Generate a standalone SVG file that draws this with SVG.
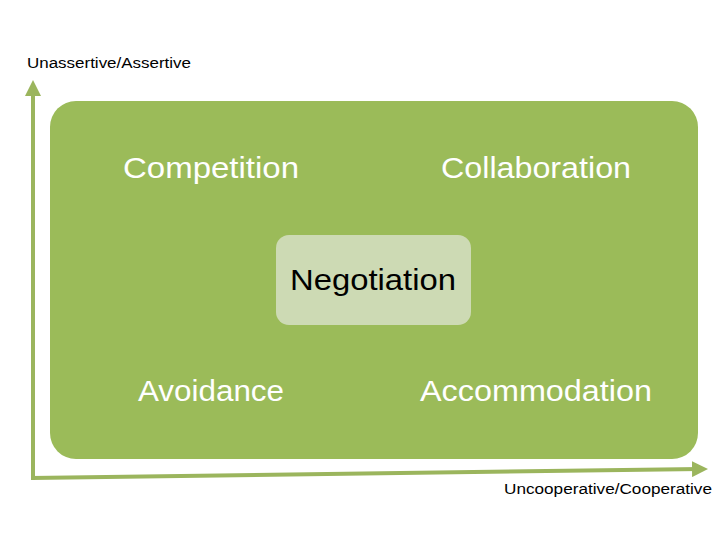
<svg xmlns="http://www.w3.org/2000/svg" width="720" height="540" viewBox="0 0 720 540">
<style>
.q{font-family:"Liberation Sans",Arial,sans-serif;font-size:30px;fill:#ffffff;text-anchor:middle}
.n{font-family:"Liberation Sans",Arial,sans-serif;font-size:30px;fill:#000000;text-anchor:middle}
.ax{font-family:"Liberation Sans",Arial,sans-serif;font-size:14px;fill:#000000}
.axis{stroke:#9BB55D;stroke-width:4;fill:none}
</style>
<defs>
<marker id="ah" viewBox="0 0 10 10" refX="5" refY="5" markerWidth="4" markerHeight="4" orient="auto" markerUnits="strokeWidth">
<path d="M0,0 L10,5 L0,10 z" fill="#9BB55D"/>
</marker>
</defs>
<rect width="720" height="540" fill="#ffffff"/>
<g id="background">
<rect x="50" y="101" width="648" height="358" rx="26" ry="26" fill="#9BBB59"/>
</g>
<g id="connectors">
<line class="axis" x1="33" y1="480" x2="33" y2="88" marker-end="url(#ah)"/>
<line class="axis" x1="31" y1="478" x2="700" y2="469" marker-end="url(#ah)"/>
</g>
<g id="competition"><text class="q" x="211" y="178" textLength="176" lengthAdjust="spacingAndGlyphs">Competition</text></g>
<g id="collaboration"><text class="q" x="536" y="178" textLength="190" lengthAdjust="spacingAndGlyphs">Collaboration</text></g>
<g id="negotiation">
<rect x="276" y="235" width="195" height="90" rx="13" ry="13" fill="#CDDAB4"/>
<text class="n" x="373" y="290" textLength="166" lengthAdjust="spacingAndGlyphs">Negotiation</text>
</g>
<g id="avoidance"><text class="q" x="211" y="401" textLength="146" lengthAdjust="spacingAndGlyphs">Avoidance</text></g>
<g id="accommodation"><text class="q" x="536" y="401" textLength="232" lengthAdjust="spacingAndGlyphs">Accommodation</text></g>
<g id="label-y"><text class="ax" x="27" y="68" textLength="164" lengthAdjust="spacingAndGlyphs">Unassertive/Assertive</text></g>
<g id="label-x"><text class="ax" x="504" y="494" textLength="208" lengthAdjust="spacingAndGlyphs">Uncooperative/Cooperative</text></g>
</svg>
